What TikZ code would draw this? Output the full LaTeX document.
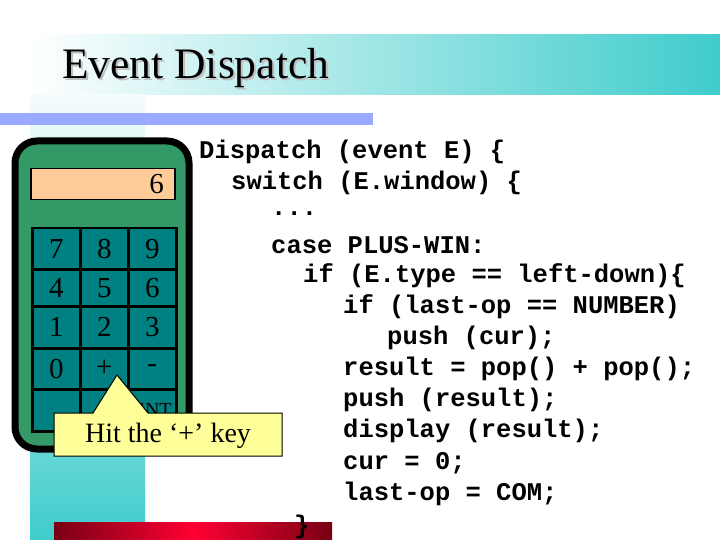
\documentclass[tikz,border=0pt]{standalone}
\usepackage{fontspec}
\setmainfont{Liberation Serif}
\setmonofont{Liberation Mono}
\begin{document}
\begin{tikzpicture}[x=1pt,y=-1pt,
  code/.style={anchor=west,inner sep=0,font=\ttfamily\bfseries\fontsize{25.5}{30}\selectfont},
  keylab/.style={font=\fontsize{29}{32}\selectfont}]
\definecolor{tealc}{RGB}{64,204,204}
\definecolor{calcg}{RGB}{51,153,102}
\definecolor{keyc}{RGB}{0,128,128}
\definecolor{dispc}{RGB}{255,204,153}
\definecolor{callc}{RGB}{255,255,153}
\definecolor{bluebar}{RGB}{153,170,255}
\definecolor{darkred}{RGB}{120,0,20}
\definecolor{brightred}{RGB}{255,0,51}
\useasboundingbox (0,0) rectangle (720,540);
\fill[white] (0,0) rectangle (720,540);
% title band
\shade[left color=white,right color=tealc] (30,35) rectangle (720,95);
\node[anchor=west,inner sep=0,font=\fontsize{43.5}{46}\selectfont,text=gray!50] (titleS) at (64,70) {Event Dispatch};
\node[anchor=west,inner sep=0,font=\fontsize{43.5}{46}\selectfont] (title) at (62,68) {Event Dispatch};
% vertical strip
\shade[top color=tealc!5,bottom color=tealc] (30,95) rectangle (145,540);
\fill[bluebar] (0,113) rectangle (373,125);
% red bar
\shade[left color=darkred,right color=darkred,middle color=brightred] (54,522) rectangle (332,540);
% calculator
\draw[line width=7pt,fill=calcg,rounded corners=22pt] (15,141) rectangle (189,449);
\node[draw=black,line width=1.5pt,fill=dispc,minimum width=144pt,minimum height=31pt,anchor=north west,inner sep=0] (disp) at (30,168) {};
\node[anchor=east,keylab,xshift=-8pt] (six) at (disp.east) {6};
\foreach \r/\ya/\yb/\la/\lb/\lc in {0/227/268/7/8/9,1/268/305/4/5/6,2/305/347/1/2/3,3/347/388/0/+/-,4/388/430/ / /{\fontsize{20}{22}\selectfont ENT}}{
  \foreach \c/\xa/\xb/\t in {0/31/79/\la,1/79/127/\lb,2/127/175/\lc}{
    \node[draw=black,line width=2.5pt,fill=keyc,minimum width=48pt,minimum height={\yb-\ya},inner sep=0,anchor=north west,keylab] (k\r\c) at (\xa,\ya) {\t};
  }
}
% callout
\draw[fill=callc,line width=1pt] (54,413) -- (93,413) -- (117,375) -- (148,413) -- (282,413) -- (282,456) -- (54,456) -- cycle;
\node[font=\fontsize{28}{30}\selectfont,inner sep=0] (hit) at (168,436) {Hit the ‘+’ key};
% code
\node[code] (c1) at (199,152) {Dispatch (event E) \{};
\node[code] (c2) at (231,183) {switch (E.window) \{};
\node[code] (c3) at (271,214) {...};
\node[code] (c4) at (271,245) {case PLUS-WIN:};
\node[code] (c5) at (303,276) {if (E.type == left-down)\{};
\node[code] (c6) at (343,307) {if (last-op == NUMBER)};
\node[code] (c7) at (387,338) {push (cur);};
\node[code] (c8) at (343,369) {result = pop() + pop();};
\node[code] (c9) at (343,400) {push (result);};
\node[code] (c10) at (343,431) {display (result);};
\node[code] (c11) at (343,463) {cur = 0;};
\node[code] (c12) at (343,494) {last-op = COM;};
\node[code] (c13) at (294,527) {\}};
\end{tikzpicture}
\end{document}
